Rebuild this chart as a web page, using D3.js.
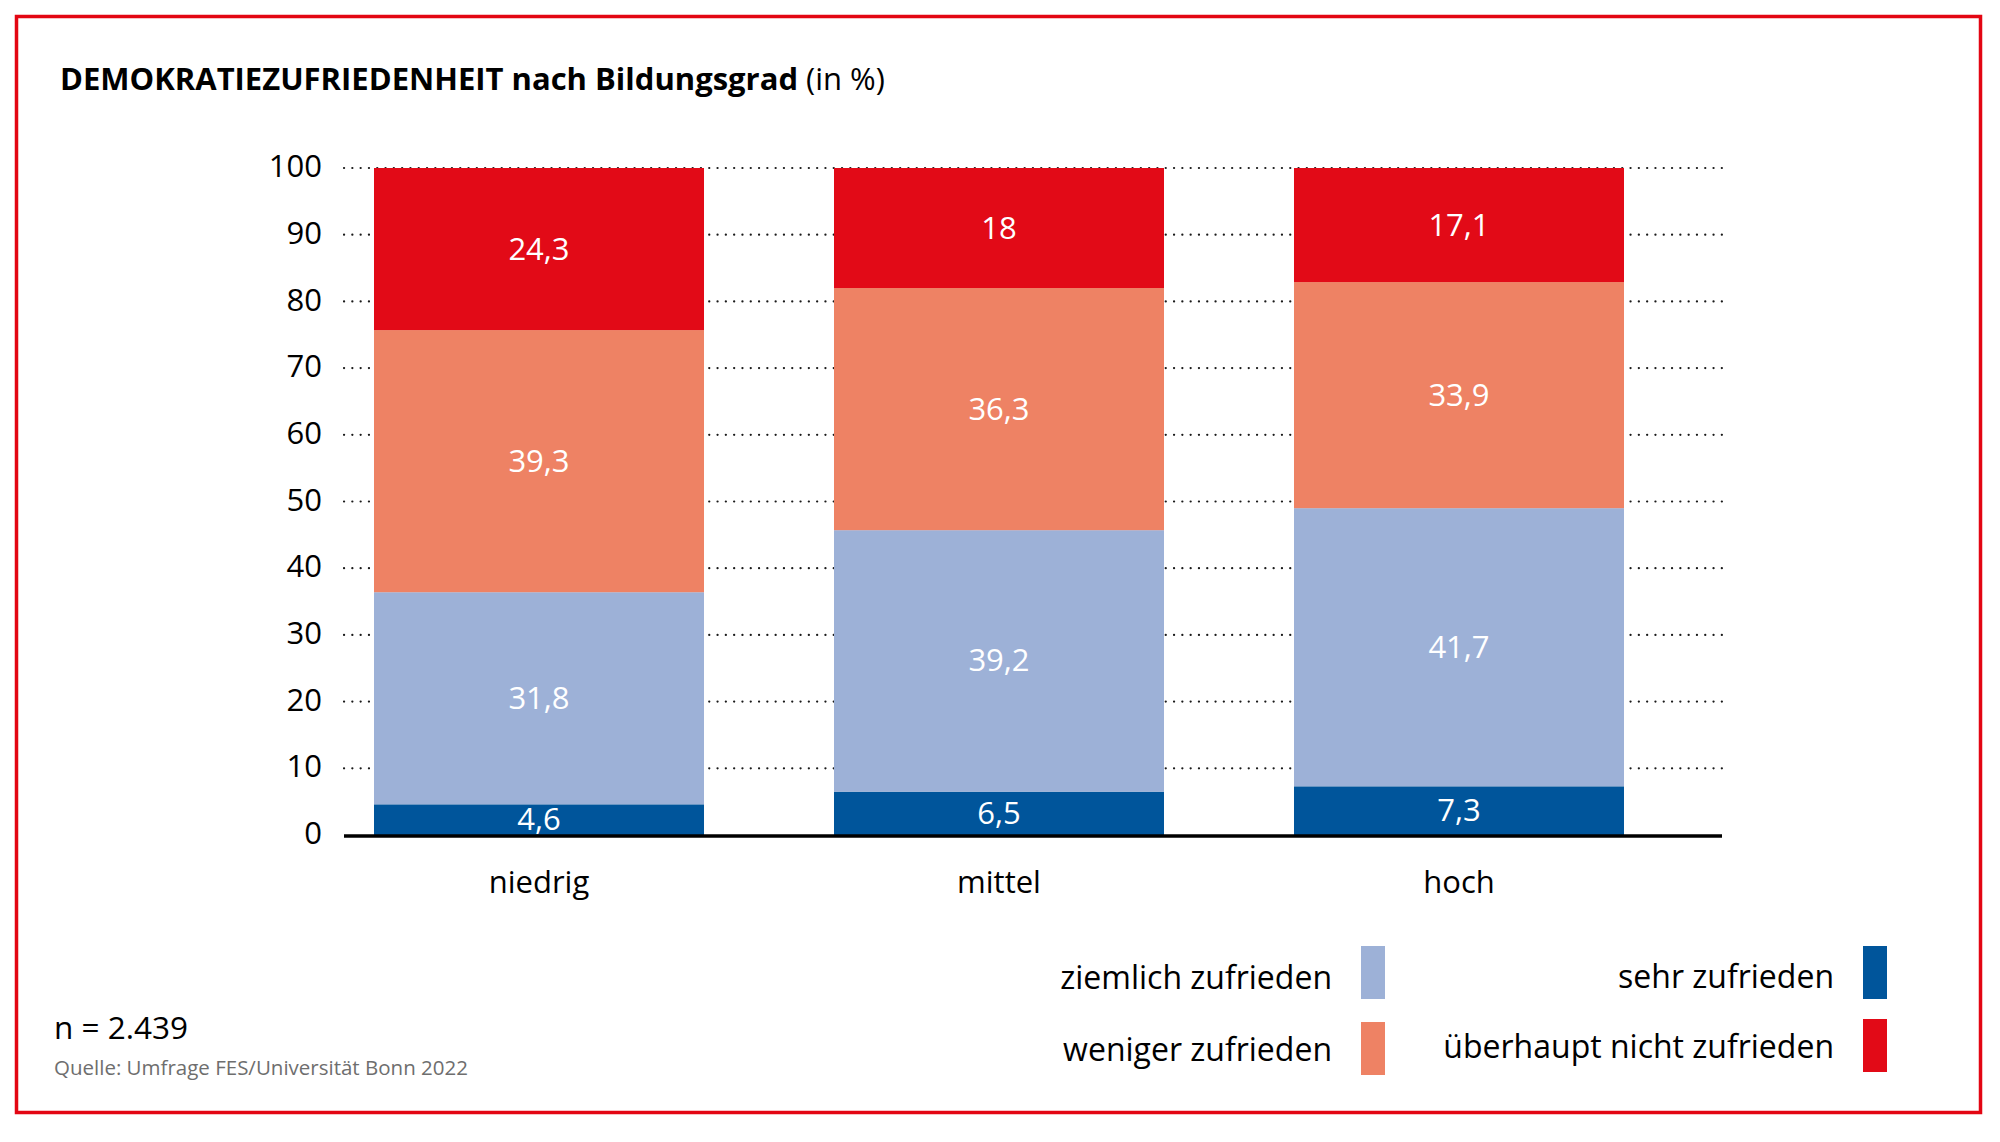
<!DOCTYPE html>
<html lang="de">
<head>
    <meta charset="UTF-8">
    <title>Demokratiezufriedenheit nach Bildungsgrad</title>
    <script src="https://d3js.org/d3.v7.min.js"></script>
    <style>
        body {
            margin: 0;
            background: #fff;
        }
        svg text {
            font-family: "Open Sans", "Noto Sans", sans-serif;
        }
    </style>
</head>
<body>
    <div id="chart"></div>
    <script>
        // Daten
        const categories = ['niedrig', 'mittel', 'hoch'];
        const seriesKeys = ['sehr', 'ziemlich', 'weniger', 'ueberhaupt'];
        const seriesLabels = ['sehr zufrieden', 'ziemlich zufrieden', 'weniger zufrieden', 'überhaupt nicht zufrieden'];
        const sehrZufrieden = [4.6, 6.5, 7.3];
        const ziemlichZufrieden = [31.8, 39.2, 41.7];
        const wenigerZufrieden = [39.3, 36.3, 33.9];
        const ueberhauptNicht = [24.3, 18, 17.1];
        const yTicks = [0, 10, 20, 30, 40, 50, 60, 70, 80, 90, 100];

        const colors = ['#00559b', '#9db1d7', '#ee8264', '#e20a17'];

        const width = 2000;
        const height = 1142;

        const svg = d3.select('#chart')
            .append('svg')
            .attr('width', width)
            .attr('height', height);

        // Rahmen
        svg.append('rect')
            .attr('x', 16.5)
            .attr('y', 16.5)
            .attr('width', 1964)
            .attr('height', 1096)
            .attr('fill', 'none')
            .attr('stroke', '#e30613')
            .attr('stroke-width', 3.5);

        // Titel
        const title = svg.append('text')
            .attr('x', 60)
            .attr('y', 90)
            .attr('font-size', 31)
            .attr('fill', '#000');
        title.append('tspan').attr('font-weight', 700).text('DEMOKRATIEZUFRIEDENHEIT nach Bildungsgrad');
        title.append('tspan').attr('font-weight', 400).text(' (in %)');

        const rows = categories.map((c, i) => ({
            cat: c,
            sehr: sehrZufrieden[i],
            ziemlich: ziemlichZufrieden[i],
            weniger: wenigerZufrieden[i],
            ueberhaupt: ueberhauptNicht[i]
        }));

        const stacked = d3.stack().keys(seriesKeys)(rows);

        const y = d3.scaleLinear()
            .domain([0, 100])
            .range([835, 168]);

        const x = d3.scaleBand()
            .domain(categories)
            .range([374, 1624])
            .paddingInner(0.2826)
            .paddingOuter(0);

        const gridLeft = 344;
        const gridRight = 1722;

        // Gitterlinien (gepunktet)
        svg.append('g')
            .selectAll('line')
            .data(yTicks.filter(d => d > 0))
            .join('line')
            .attr('x1', gridLeft)
            .attr('x2', gridRight)
            .attr('y1', d => y(d))
            .attr('y2', d => y(d))
            .attr('stroke', '#1a1a1a')
            .attr('stroke-width', 2.2)
            .attr('stroke-linecap', 'round')
            .attr('stroke-dasharray', '0.1,8.2');

        // Y-Achse Beschriftung
        const yAxis = d3.axisLeft(y)
            .tickValues(yTicks)
            .tickSize(0)
            .tickPadding(0);
        const yG = svg.append('g')
            .attr('transform', 'translate(322,0)')
            .call(yAxis);
        yG.select('.domain').remove();
        yG.selectAll('text')
            .attr('font-size', 31)
            .attr('font-family', '"Open Sans", "Noto Sans", sans-serif')
            .attr('fill', '#000')
            .attr('dy', '0.28em');

        // Balken
        const layers = svg.append('g')
            .selectAll('g')
            .data(stacked)
            .join('g')
            .attr('fill', (d, i) => colors[i]);

        layers.selectAll('rect')
            .data(d => d)
            .join('rect')
            .attr('x', d => x(d.data.cat))
            .attr('width', x.bandwidth())
            .attr('y', d => y(d[1]))
            .attr('height', d => y(d[0]) - y(d[1]));

        // Werte in den Balken
        const fmt = v => String(v).replace('.', ',');
        layers.selectAll('text')
            .data(d => d.map(s => ({ s, key: d.key })))
            .join('text')
            .attr('x', d => x(d.s.data.cat) + x.bandwidth() / 2)
            .attr('y', d => (y(d.s[0]) + y(d.s[1])) / 2)
            .attr('dy', '0.34em')
            .attr('text-anchor', 'middle')
            .attr('font-size', 31)
            .attr('fill', '#fff')
            .text(d => fmt(d.s.data[d.key]));

        // Nulllinie
        svg.append('line')
            .attr('x1', gridLeft)
            .attr('x2', gridRight)
            .attr('y1', y(0) + 1)
            .attr('y2', y(0) + 1)
            .attr('stroke', '#000')
            .attr('stroke-width', 3.5);

        // X-Achse Beschriftung
        const xAxis = d3.axisBottom(x).tickSize(0).tickPadding(0);
        const xG = svg.append('g')
            .attr('transform', 'translate(0,893)')
            .call(xAxis);
        xG.select('.domain').remove();
        xG.selectAll('text')
            .attr('font-size', 31)
            .attr('font-family', '"Open Sans", "Noto Sans", sans-serif')
            .attr('fill', '#000')
            .attr('dy', 0);

        // Legende
        const legendItems = [
            { idx: 1, sx: 1361, sy: 946, ty: 989 },
            { idx: 2, sx: 1361, sy: 1022, ty: 1061 },
            { idx: 0, sx: 1863, sy: 946, ty: 988 },
            { idx: 3, sx: 1863, sy: 1019, ty: 1058 }
        ];
        const legend = svg.append('g')
            .selectAll('g')
            .data(legendItems)
            .join('g');
        legend.append('rect')
            .attr('x', d => d.sx)
            .attr('y', d => d.sy)
            .attr('width', 24)
            .attr('height', 53)
            .attr('fill', d => colors[d.idx]);
        legend.append('text')
            .attr('x', d => d.sx - 29)
            .attr('y', d => d.ty)
            .attr('text-anchor', 'end')
            .attr('font-size', 32)
            .attr('fill', '#000')
            .text(d => seriesLabels[d.idx]);

        // Fußnote
        svg.append('text')
            .attr('x', 54)
            .attr('y', 1039)
            .attr('font-size', 31.5)
            .attr('fill', '#000')
            .text('n = 2.439');
        svg.append('text')
            .attr('x', 54)
            .attr('y', 1075)
            .attr('font-size', 20.5)
            .attr('fill', '#6e6e6e')
            .text('Quelle: Umfrage FES/Universität Bonn 2022');
    </script>
</body>
</html>
